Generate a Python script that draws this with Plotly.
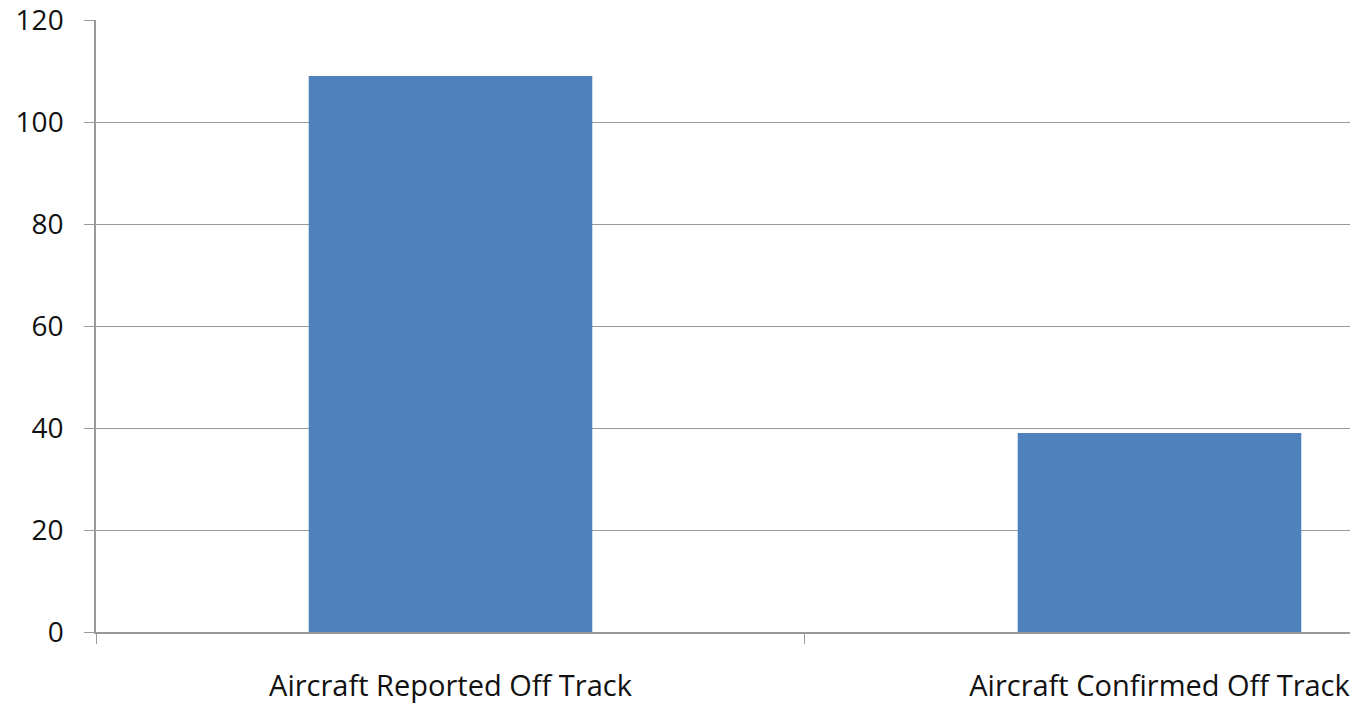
import plotly.graph_objects as go

categories = ["Aircraft Reported Off Track", "Aircraft Confirmed Off Track"]
values = [109, 39]
y_ticks = [0, 20, 40, 60, 80, 100, 120]

fig = go.Figure(go.Bar(x=categories, y=values, marker=dict(color="#4F81BD", line=dict(width=0)), width=0.4))

fig.update_layout(
    width=1350, height=697,
    margin=dict(l=88, r=0, t=12, b=73),
    paper_bgcolor="white", plot_bgcolor="white",
    font=dict(family="Open Sans", color="#111111"),
    showlegend=False,
)
fig.update_xaxes(
    range=[-0.5, 1.28], tickson="boundaries", ticks="outside", ticklen=10, tickcolor="#999999",
    showline=True, linecolor="#999999", linewidth=1.5, showgrid=False,
    tickfont=dict(size=29), ticklabelstandoff=27, automargin=False, ticklabeloverflow="allow",
)
fig.update_yaxes(
    range=[0, 120], tickvals=y_ticks, ticks="outside", ticklen=10, tickcolor="#999999",
    showline=True, linecolor="#999999", linewidth=1.5,
    showgrid=True, gridcolor="#999999", gridwidth=1.2, zeroline=False,
    tickfont=dict(size=28), ticklabelstandoff=15, automargin=False, ticklabeloverflow="allow",
)
fig.write_html("out.html")
